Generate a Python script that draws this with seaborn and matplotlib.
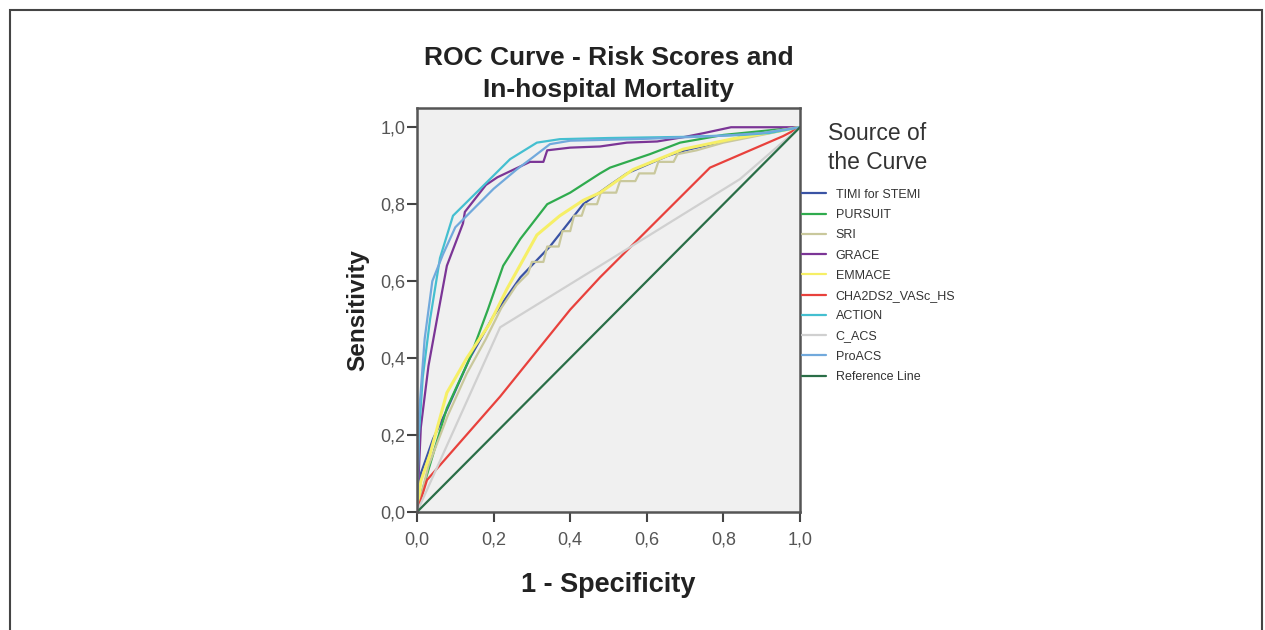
import seaborn as sns
import matplotlib.pyplot as plt
import matplotlib.patches as patches
from matplotlib.ticker import FuncFormatter
import pandas as pd

# ----------- DATA -----------
timi_x = [0, 0.01, 0.042, 0.08, 0.138, 0.2, 0.27, 0.347, 0.434, 0.504, 0.548, 0.653, 0.70, 0.85, 1.0]
timi_y = [0, 0.10, 0.19, 0.27, 0.40, 0.51, 0.61, 0.69, 0.80, 0.85, 0.88, 0.925, 0.94, 0.975, 1.0]

pursuit_x = [0, 0.015, 0.078, 0.138, 0.185, 0.225, 0.27, 0.34, 0.40, 0.478, 0.504, 0.608, 0.687, 0.80, 1.0]
pursuit_y = [0, 0.06, 0.27, 0.40, 0.526, 0.64, 0.71, 0.80, 0.83, 0.88, 0.895, 0.93, 0.96, 0.98, 1.0]

sri_x = [0, 0.03, 0.08, 0.13, 0.18, 0.22, 0.26, 0.29, 0.30, 0.33, 0.34, 0.37, 0.38, 0.40, 0.41,
         0.43, 0.44, 0.47, 0.48, 0.52, 0.53, 0.57, 0.58, 0.62, 0.63, 0.67, 0.68, 0.73, 0.80, 0.90, 1.0]
sri_y = [0, 0.12, 0.25, 0.36, 0.45, 0.53, 0.59, 0.62, 0.65, 0.65, 0.69, 0.69, 0.73, 0.73, 0.77,
         0.77, 0.80, 0.80, 0.83, 0.83, 0.86, 0.86, 0.88, 0.88, 0.91, 0.91, 0.93, 0.94, 0.96, 0.98, 1.0]

grace_x = [0, 0.01, 0.03, 0.052, 0.078, 0.12, 0.125, 0.18, 0.21, 0.295, 0.33, 0.34, 0.40,
           0.478, 0.548, 0.627, 0.70, 0.75, 0.82, 1.0]
grace_y = [0, 0.22, 0.38, 0.50, 0.64, 0.75, 0.78, 0.85, 0.87, 0.91, 0.91, 0.94, 0.947,
           0.95, 0.96, 0.963, 0.975, 0.985, 1.0, 1.0]

emmace_x = [0, 0.01, 0.034, 0.078, 0.13, 0.19, 0.235, 0.313, 0.373, 0.434, 0.478, 0.564, 0.695, 0.825, 1.0]
emmace_y = [0, 0.08, 0.15, 0.31, 0.40, 0.49, 0.58, 0.72, 0.77, 0.81, 0.83, 0.89, 0.943, 0.97, 1.0]

cha_x = [0, 0.026, 0.217, 0.40, 0.478, 0.765, 0.956, 1.0]
cha_y = [0, 0.083, 0.30, 0.526, 0.61, 0.895, 0.977, 1.0]

action_x = [0, 0.005, 0.015, 0.034, 0.06, 0.094, 0.165, 0.243, 0.313, 0.373, 0.5, 0.7, 0.85, 0.92, 1.0]
action_y = [0, 0.20, 0.35, 0.50, 0.66, 0.77, 0.84, 0.917, 0.96, 0.969, 0.972, 0.975, 0.98, 0.985, 1.0]

cacs_x = [0, 0.217, 0.478, 0.843, 1.0]
cacs_y = [0, 0.48, 0.64, 0.865, 1.0]

proacs_x = [0, 0.005, 0.02, 0.04, 0.068, 0.10, 0.146, 0.20, 0.26, 0.30, 0.347, 0.40, 0.6, 0.8, 0.9, 1.0]
proacs_y = [0, 0.25, 0.45, 0.60, 0.67, 0.74, 0.786, 0.84, 0.89, 0.92, 0.956, 0.965, 0.97, 0.978, 0.985, 1.0]

ref_x = [0, 1.0]
ref_y = [0, 1.0]

curves = [
    ("TIMI for STEMI", timi_x, timi_y, "#3a53a4"),
    ("PURSUIT", pursuit_x, pursuit_y, "#2fab4e"),
    ("SRI", sri_x, sri_y, "#c9c89c"),
    ("GRACE", grace_x, grace_y, "#7b3596"),
    ("EMMACE", emmace_x, emmace_y, "#f6ef66"),
    ("CHA2DS2_VASc_HS", cha_x, cha_y, "#e8413c"),
    ("ACTION", action_x, action_y, "#44bfd0"),
    ("C_ACS", cacs_x, cacs_y, "#d0d0d0"),
    ("ProACS", proacs_x, proacs_y, "#71a9dc"),
    ("Reference Line", ref_x, ref_y, "#2a6e47"),
]

rows = []
for name, xs, ys, _ in curves:
    for i, (a, b) in enumerate(zip(xs, ys)):
        rows.append({"curve": name, "order": i, "fpr": a, "tpr": b})
df = pd.DataFrame(rows)
palette = {name: c for name, _, _, c in curves}
hue_order = [name for name, _, _, _ in curves]

# ----------- PLOT -----------
sns.set_style("white")
plt.rcParams["font.family"] = ["Liberation Sans", "DejaVu Sans"]

fig = plt.figure(figsize=(12.65, 6.3), dpi=100)
ax = fig.add_axes([417 / 1265, 1 - 512 / 630, 383 / 1265, 404 / 630])
ax.set_facecolor("#f0f0f0")

sns.lineplot(data=df, x="fpr", y="tpr", hue="curve", hue_order=hue_order,
             palette=palette, sort=False, estimator=None, linewidth=1.6, ax=ax)
# EMMACE is drawn a little heavier in the original
ax.lines[hue_order.index("EMMACE")].set_linewidth(2.2)

ax.set_xlim(0, 1.0)
ax.set_ylim(0, 1.05)
ax.set_xticks([0, 0.2, 0.4, 0.6, 0.8, 1.0])
ax.set_yticks([0, 0.2, 0.4, 0.6, 0.8, 1.0])
comma = FuncFormatter(lambda v, p: f"{v:.1f}".replace(".", ","))
ax.xaxis.set_major_formatter(comma)
ax.yaxis.set_major_formatter(comma)
ax.tick_params(direction="out", length=7.5, width=1.5, color="#444444",
               labelsize=13, labelcolor="#555555", bottom=True, left=True)
ax.tick_params(axis="x", pad=6.5)
ax.tick_params(axis="y", pad=1)
for s in ax.spines.values():
    s.set_color("#555555")
    s.set_linewidth(1.8)

ax.set_xlabel("1 - Specificity", fontsize=19.5, fontweight="bold", labelpad=17, color="#222222")
ax.set_ylabel("Sensitivity", fontsize=17.5, fontweight="bold", labelpad=8, color="#222222")
ax.set_title("ROC Curve - Risk Scores and\nIn-hospital Mortality",
             fontsize=19, fontweight="bold", pad=8, linespacing=1.4, color="#222222")

# legend outside right
handles, labels = ax.get_legend_handles_labels()
leg = ax.legend(handles, labels, loc="upper left", bbox_to_anchor=(1.005, 0.8),
                frameon=False, fontsize=9, handlelength=1.9, handletextpad=0.8,
                labelspacing=0.66, borderaxespad=0, borderpad=0)
for t in leg.get_texts():
    t.set_color("#333333")
fig.text(828 / 1265, 1 - 122 / 630, "Source of\nthe Curve", fontsize=16.5,
         va="top", ha="left", color="#333333", linespacing=1.35)

# outer frame
fig.patches.append(patches.Rectangle((10 / 1265, -0.05), 1252 / 1265, 1.05 - 10 / 630,
                                     transform=fig.transFigure, fill=False,
                                     edgecolor="#444444", linewidth=1.5))

fig.savefig("out.png", dpi=100)
